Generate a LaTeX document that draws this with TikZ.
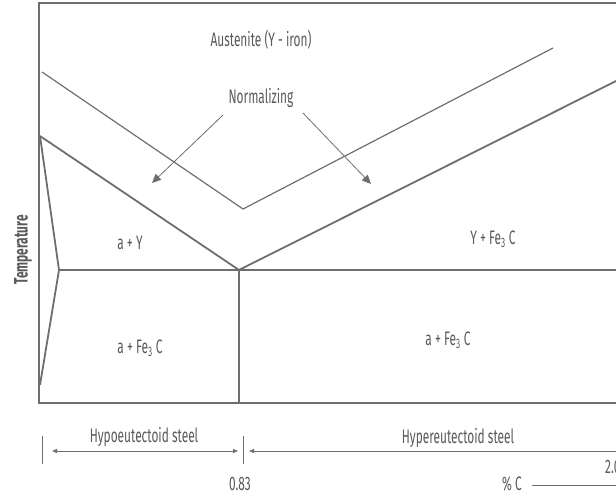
\documentclass[tikz,border=0pt]{standalone}
\usepackage{fontspec}
\setmainfont{Fira Sans}[FakeStretch=0.61]
\usetikzlibrary{arrows.meta}
\definecolor{ln}{HTML}{6E6E70}
\definecolor{tx}{HTML}{5A5A5C}
\tikzset{
  frame/.style={draw=ln, line width=1.6pt},
  phase/.style={draw=ln, line width=1.8pt},
  norm/.style={draw=ln, line width=1.2pt},
  arr/.style={draw=ln, line width=0.8pt, -{Triangle[length=9pt,width=8pt]}},
  dim/.style={draw=ln, line width=0.8pt},
  tick/.style={draw=ln, line width=0.9pt},
  lbl/.style={text=tx, font=\fontsize{19.5}{21}\selectfont, inner sep=0pt},
}
\begin{document}
\begin{tikzpicture}[x=1pt,y=-1pt]
\useasboundingbox (0,0) rectangle (616,495);
\clip (0,0) rectangle (616,495);
% frame
\coordinate (tl) at (39,3);
\coordinate (tr) at (640,3);
\coordinate (bl) at (39,403);
\coordinate (br) at (640,403);
\draw[frame] (tr) -- (tl) -- (bl) -- (br);
% phase boundaries
\coordinate (a3) at (40,136);
\coordinate (eu) at (239,270);
\coordinate (acm) at (660,59);
\coordinate (p1) at (59,270);
\coordinate (hr) at (640,270);
\coordinate (eb) at (239,403);
\coordinate (p2) at (40,385);
\draw[phase] (a3) -- (eu) -- (acm);
\draw[phase] (p1) -- (hr);
\draw[phase] (eu) -- (eb);
\draw[phase] (a3) -- (p1) -- (p2);
% normalizing line
\coordinate (n1) at (42,72);
\coordinate (nv) at (243,209);
\coordinate (n2) at (553,48);
\draw[norm] (n1) -- (nv) -- (n2);
% labels
\node[lbl] (aus) at (261,40) {Austenite (Y - iron)};
\node[lbl] (nrm) at (261,98) {Normalizing};
\node[lbl] (ag) at (130,243) {a + Y};
\node[lbl] (af1) at (140,348) {a + Fe\textsubscript{3} C};
\node[lbl] (gf) at (493,239) {Y + Fe\textsubscript{3} C};
\node[lbl] (af2) at (448,340) {a + Fe\textsubscript{3} C};
\node[lbl, font=\fontsize{19.5}{21}\selectfont\bfseries, rotate=90] (temp) at (23,250) {Temperature};
% normalizing arrows
\coordinate (s1) at (223,115);
\coordinate (e1) at (152,183);
\coordinate (s2) at (303,113);
\coordinate (e2) at (371,184);
\draw[arr] (s1) -- (e1);
\draw[arr] (s2) -- (e2);
% bottom scale
\coordinate (t1a) at (42,436);
\coordinate (t1b) at (42,464);
\coordinate (t2a) at (243,436);
\coordinate (t2b) at (243,464);
\draw[tick] (t1a) -- (t1b);
\draw[tick] (t2a) -- (t2b);
\coordinate (d1) at (52,451);
\coordinate (d2) at (238,451);
\coordinate (d3) at (249,451);
\coordinate (d4) at (640,451);
\draw[dim, {Triangle[length=5pt,width=4pt]}-{Triangle[length=5pt,width=4pt]}] (d1) -- (d2);
\draw[dim, {Triangle[length=5pt,width=4pt]}-] (d3) -- (d4);
\node[lbl] (hypo) at (144,437) {Hypoeutectoid steel};
\node[lbl] (hyper) at (458,438) {Hypereutectoid steel};
\node[lbl, anchor=west] (two) at (605,467) {2.0};
\node[lbl] (e83) at (240,484) {0.83};
\node[lbl] (pc) at (512,484) {\% C};
\coordinate (c1) at (532,485);
\coordinate (c2) at (640,485);
\draw[dim] (c1) -- (c2);
\end{tikzpicture}
\end{document}
